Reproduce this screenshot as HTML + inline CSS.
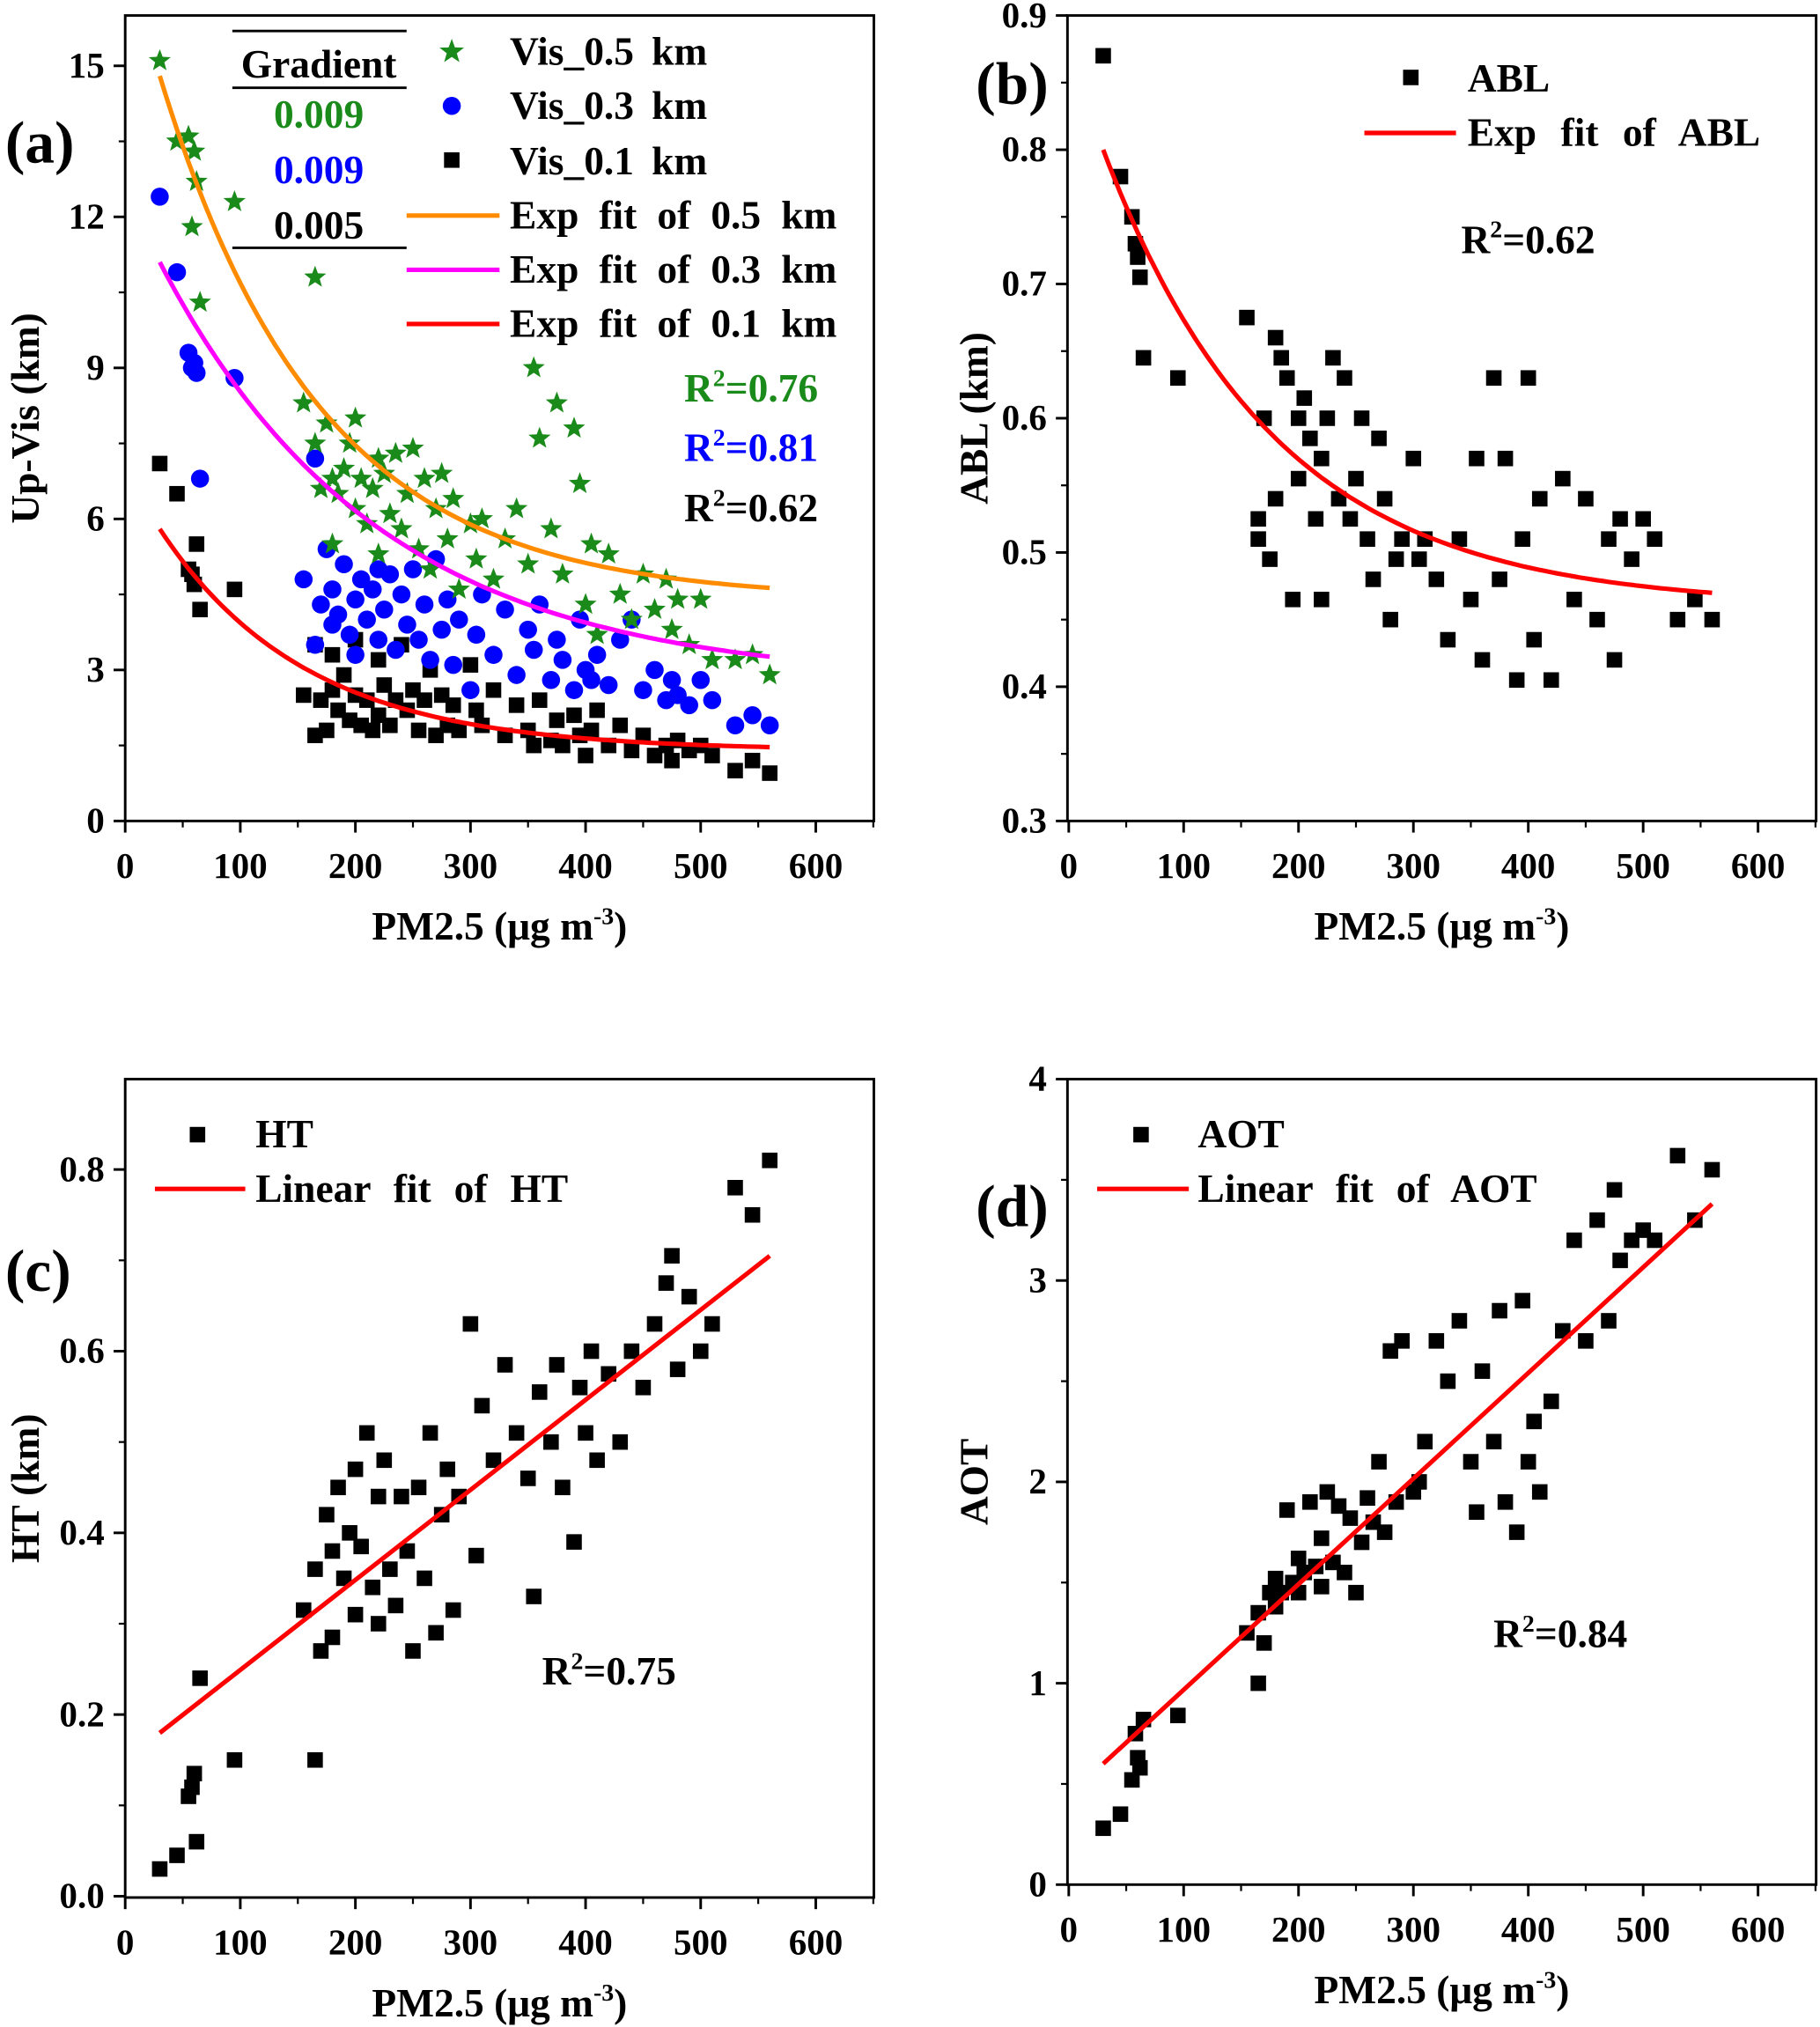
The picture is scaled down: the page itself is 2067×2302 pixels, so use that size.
<!DOCTYPE html>
<html><head><meta charset="utf-8">
<style>
html,body{margin:0;padding:0;background:#fff;}
svg{display:block;font-family:"Liberation Serif",serif;font-weight:bold;}
</style></head>
<body>
<svg id="fig" xmlns="http://www.w3.org/2000/svg" width="2067" height="2302" viewBox="0 0 1410 1570.3">
<rect width="1410" height="1571" fill="#fff"/>
</svg>
<script>
const pm=[30,45,55,58,60,62,65,95,155,165,165,170,175,180,180,185,190,195,200,200,205,210,215,220,220,225,230,235,240,245,250,255,260,265,270,275,280,285,290,300,305,310,320,330,340,350,355,360,370,375,380,390,395,400,405,410,420,430,440,450,460,470,475,480,490,500,510,530,545,560];
const vis05=[15.1,13.5,13.6,11.8,13.3,12.7,10.3,12.3,8.3,10.8,7.5,6.6,7.9,6.8,5.5,6.5,7.0,7.5,8.0,6.2,6.8,5.9,6.6,7.2,5.3,6.9,6.1,7.3,5.8,6.5,7.4,5.4,6.8,5.0,6.2,6.9,5.6,6.4,4.6,5.9,5.2,6.0,4.8,5.6,6.2,5.1,9.0,7.6,5.8,8.3,4.9,7.8,6.7,4.3,5.5,3.7,5.3,4.5,4.0,4.9,4.2,4.8,3.8,4.4,3.5,4.4,3.2,3.2,3.3,2.9];
const vis03=[12.4,10.9,9.3,9.0,9.1,8.9,6.8,8.8,4.8,7.2,3.5,4.3,5.4,3.9,4.6,4.1,5.1,3.7,4.4,3.3,4.8,4.0,4.6,5.0,3.6,4.2,4.9,3.4,4.5,3.9,5.0,3.6,4.3,3.2,5.2,3.8,4.4,3.1,4.0,2.6,3.7,4.5,3.3,4.2,2.9,3.8,3.4,4.3,2.8,3.6,3.2,2.6,4.0,3.0,2.8,3.3,2.7,3.6,4.0,2.6,3.0,2.4,2.8,2.5,2.3,2.8,2.4,1.9,2.1,1.9];
const vis01=[7.1,6.5,5.0,4.9,4.7,5.5,4.2,4.6,2.5,1.7,3.5,2.4,1.8,2.6,3.3,2.2,2.9,2.0,2.5,3.6,1.9,2.4,1.8,3.2,2.1,2.7,1.9,2.4,3.5,2.2,2.6,1.8,2.4,3.0,1.7,2.5,1.9,2.3,1.8,3.1,2.2,1.9,2.6,1.7,2.3,1.8,1.5,2.4,1.6,2.0,1.5,2.1,1.7,1.3,1.8,2.2,1.5,1.9,1.4,1.7,1.3,1.5,1.2,1.6,1.4,1.5,1.3,1.0,1.2,0.95];
const abl=[0.87,0.78,0.75,0.73,0.72,0.705,0.645,0.63,0.675,0.525,0.51,0.60,0.495,0.66,0.54,0.645,0.63,0.465,0.60,0.555,0.615,0.585,0.525,0.57,0.465,0.60,0.645,0.54,0.63,0.525,0.555,0.60,0.51,0.48,0.585,0.54,0.45,0.495,0.51,0.57,0.495,0.51,0.48,0.435,0.51,0.465,0.57,0.42,0.63,0.48,0.57,0.405,0.51,0.63,0.435,0.54,0.405,0.555,0.465,0.54,0.45,0.51,0.42,0.525,0.495,0.525,0.51,0.45,0.465,0.45];
const ht=[0.03,0.045,0.11,0.12,0.135,0.06,0.24,0.15,0.315,0.15,0.36,0.27,0.42,0.38,0.285,0.45,0.35,0.40,0.31,0.47,0.385,0.51,0.34,0.44,0.30,0.48,0.36,0.32,0.44,0.38,0.27,0.45,0.35,0.51,0.29,0.42,0.47,0.315,0.44,0.63,0.375,0.54,0.48,0.585,0.51,0.46,0.33,0.555,0.50,0.585,0.45,0.39,0.56,0.51,0.60,0.48,0.575,0.50,0.60,0.56,0.63,0.675,0.705,0.58,0.66,0.60,0.63,0.78,0.75,0.81];
const aot=[0.28,0.35,0.52,0.75,0.63,0.58,0.82,0.84,1.25,1.00,1.35,1.20,1.45,1.38,1.52,1.45,1.86,1.50,1.62,1.45,1.55,1.90,1.58,1.72,1.48,1.95,1.60,1.88,1.55,1.82,1.45,1.70,1.92,1.80,2.10,1.75,2.65,1.90,2.70,1.95,2.00,2.20,2.70,2.50,2.80,2.10,1.85,2.55,2.20,2.85,1.90,1.75,2.90,2.10,2.30,1.95,2.40,2.75,3.20,2.70,3.30,2.80,3.45,3.10,3.20,3.25,3.20,3.62,3.30,3.55];
// fit parameters: exp y0 + A*exp(-(x-30)/t) ; linear a + b*x
const fit05=[4.4,10.4,139], fit03=[2.75,8.35,190], fit01=[1.4,4.4,127], fitAbl=[0.46,0.34,150];
const fitHt=[0.150,0.000991], fitAot=[0.443,0.005245];
const xTicks=[0,100,200,300,400,500,600];

const NS="http://www.w3.org/2000/svg";
const svg=document.getElementById('fig');
function el(tag,attrs,parent){const e=document.createElementNS(NS,tag);for(const k in attrs)e.setAttribute(k,attrs[k]);(parent||svg).appendChild(e);return e;}
function txt(s,x,y,size,opts,parent){const t=el('text',Object.assign({x:x,y:y,'font-size':size},opts||{}),parent);t.innerHTML=s;return t;}

function panel(name,box,ymin,ymax,yTicks,yFmt,minorY,yLabel,x0px,x600px,y0px,y1px,labX){
  const g=el('g',{});
  
  
  const xs=v=>x0px+(x600px-x0px)*v/600;
  const ys=v=>y0px+(y1px-y0px)*(v-ymin)/(ymax-ymin);
  const fr=el('rect',{x:box[0],y:box[1],width:box[2]-box[0],height:box[3]-box[1],fill:'none',stroke:'#000','stroke-width':2},g);
  
  
  const ax=el('g',{},g);
  
  
  xTicks.forEach(v=>{const x=xs(v);el('line',{x1:x,x2:x,y1:box[3],y2:box[3]+9,stroke:'#000','stroke-width':2},ax);
    el('line',{x1:xs(v+50),x2:xs(v+50),y1:box[3],y2:box[3]+5,stroke:'#000','stroke-width':1.5},ax);
    const t=txt(String(v),x,box[3]+44,28,{'text-anchor':'middle'},ax);});
  const ay=el('g',{},g);
  
  
  yTicks.forEach((v,i)=>{const y=ys(v);el('line',{x1:box[0]-9,x2:box[0],y1:y,y2:y,stroke:'#000','stroke-width':2},ay);
    const m=ys(v+minorY);if(m>box[1])el('line',{x1:box[0]-5,x2:box[0],y1:m,y2:m,stroke:'#000','stroke-width':1.5},ay);
    const t=txt(yFmt(v),box[0]-16,y+9,28,{'text-anchor':'end'},ay);});
  const xl=txt('PM2.5 (μg m<tspan dy="-12" font-size="19">-3</tspan><tspan dy="12">)</tspan>',(box[0]+box[2])/2,box[3]+92,31,{'text-anchor':'middle'},g);
  
  const yc=(box[1]+box[3])/2;
  const yl=txt(yLabel,labX,yc,31,{'text-anchor':'middle',transform:'rotate(-90 '+labX+' '+yc+')'},g);
  
  return {g,xs,ys};
}
function square(g,x,y,s,c){return el('rect',{x:x-s/2,y:y-s/2,width:s,height:s,fill:c||'#000'},g);}
function star(g,x,y,r,c){let p=[];for(let i=0;i<10;i++){const a=-Math.PI/2+i*Math.PI/5,rr=i%2?r*0.42:r;p.push((x+rr*Math.cos(a)).toFixed(1)+','+(y+rr*Math.sin(a)).toFixed(1));}return el('polygon',{points:p.join(' '),fill:c},g);}
function expPath(P,f,c){let d='';for(let x=30;x<=560;x+=5){const v=f[0]+f[1]*Math.exp(-(x-30)/f[2]);d+=(x==30?'M':'L')+P.xs(x).toFixed(1)+','+P.ys(v).toFixed(1);}return el('path',{d:d,fill:'none',stroke:c,'stroke-width':3.5},P.g);}
function linPath(P,f,c){return el('line',{x1:P.xs(30),y1:P.ys(f[0]+f[1]*30),x2:P.xs(560),y2:P.ys(f[0]+f[1]*560),stroke:c,'stroke-width':3.5},P.g);}

// Panel A
const A=panel('panel-a',[97,12,677,636],0,15,[0,3,6,9,12,15],v=>String(v),1.5,'Up-Vis (km)',97,632,636,51,30);
const sA=el('g',{},A.g);
pm.forEach((x,i)=>{const m=square(sA,A.xs(x),A.ys(vis01[i]),12);});
const sB=el('g',{},A.g);
pm.forEach((x,i)=>{const m=el('circle',{cx:A.xs(x),cy:A.ys(vis03[i]),r:7,fill:'#0000ff'},sB);});
const sC=el('g',{},A.g);
pm.forEach((x,i)=>{const m=star(sC,A.xs(x),A.ys(vis05[i]),9,'#1a8a1a');});
let f;
f=expPath(A,fit05,'#ff8c00');
f=expPath(A,fit03,'#ff00ff');
f=expPath(A,fit01,'#ff0000');

// Panel B
const B=panel('panel-b',[827,12,1407,636],0.3,0.9,[0.3,0.4,0.5,0.6,0.7,0.8,0.9],v=>v.toFixed(1),0.05,'ABL (km)',828,1362,636,12,765);
pm.forEach((x,i)=>{const m=square(B.g,B.xs(x),B.ys(abl[i]),12);});
f=expPath(B,fitAbl,'#ff0000');

// Panel C
const C=panel('panel-c',[97,836,677,1470],0,0.8,[0,0.2,0.4,0.6,0.8],v=>v.toFixed(1),0.1,'HT (km)',97,632,1469,906,30);
pm.forEach((x,i)=>{const m=square(C.g,C.xs(x),C.ys(ht[i]),12);});
f=linPath(C,fitHt,'#ff0000');

// Panel D
const D=panel('panel-d',[827,836,1407,1460],0,4,[0,1,2,3,4],v=>String(v),0.5,'AOT',828,1362,1460,836,765);
pm.forEach((x,i)=>{const m=square(D.g,D.xs(x),D.ys(aot[i]),12);});
f=linPath(D,fitAot,'#ff0000');
</script>
<svg style="position:absolute;left:0;top:0" width="2067" height="2302" viewBox="0 0 1410 1570.3">
<g font-family="Liberation Serif, serif" font-weight="bold" word-spacing="6">
 <text x="4" y="126" font-size="46">(a)</text>
 <text x="756" y="80" font-size="46">(b)</text>
 <text x="4" y="1000" font-size="46">(c)</text>
 <text x="756" y="950" font-size="46">(d)</text>
 <g>
  <line x1="180" x2="315" y1="24" y2="24" stroke="#000" stroke-width="2"/>
  <text x="247" y="60" font-size="31" text-anchor="middle">Gradient</text>
  <line x1="180" x2="315" y1="68" y2="68" stroke="#000" stroke-width="2"/>
  <text x="247" y="99" font-size="31" text-anchor="middle" fill="#1a8a1a">0.009</text>
  <text x="247" y="142" font-size="31" text-anchor="middle" fill="#0000ff">0.009</text>
  <text x="247" y="185" font-size="31" text-anchor="middle">0.005</text>
  <line x1="180" x2="315" y1="192" y2="192" stroke="#000" stroke-width="2"/>
 </g>
 <g font-size="31">
  <polygon points="350,30 352.4,36.7 359.5,36.9 353.9,41.3 355.9,48.1 350,44.1 344.1,48.1 346.1,41.3 340.5,36.9 347.6,36.7" fill="#1a8a1a"/>
  <text x="395" y="50">Vis_0.5 km</text>
  <circle cx="350" cy="82" r="7" fill="#0000ff"/>
  <text x="395" y="92">Vis_0.3 km</text>
  <rect x="344" y="118" width="12" height="12" fill="#000"/>
  <text x="395" y="135">Vis_0.1 km</text>
  <line x1="315" x2="387" y1="167" y2="167" stroke="#ff8c00" stroke-width="3.5"/>
  <text x="395" y="177" word-spacing="8">Exp fit of 0.5 km</text>
  <line x1="315" x2="387" y1="209" y2="209" stroke="#ff00ff" stroke-width="3.5"/>
  <text x="395" y="219" word-spacing="8">Exp fit of 0.3 km</text>
  <line x1="315" x2="387" y1="251" y2="251" stroke="#ff0000" stroke-width="3.5"/>
  <text x="395" y="261" word-spacing="8">Exp fit of 0.1 km</text>
 </g>
 <text x="530" y="311" font-size="31" fill="#1a8a1a">R<tspan dy="-12" font-size="19">2</tspan><tspan dy="12">=0.76</tspan></text>
 <text x="530" y="357" font-size="31" fill="#0000ff">R<tspan dy="-12" font-size="19">2</tspan><tspan dy="12">=0.81</tspan></text>
 <text x="530" y="404" font-size="31">R<tspan dy="-12" font-size="19">2</tspan><tspan dy="12">=0.62</tspan></text>
 <g font-size="31">
  <rect x="1087" y="54" width="12" height="12"/>
  <text x="1137" y="71">ABL</text>
  <line x1="1057" x2="1128" y1="103" y2="103" stroke="#ff0000" stroke-width="3.5"/>
  <text x="1137" y="113" word-spacing="11">Exp fit of ABL</text>
 </g>
 <text x="1132" y="196" font-size="31">R<tspan dy="-12" font-size="19">2</tspan><tspan dy="12">=0.62</tspan></text>
 <g font-size="31">
  <rect x="147" y="873" width="12" height="12"/>
  <text x="198" y="889">HT</text>
  <line x1="120" x2="190" y1="921" y2="921" stroke="#ff0000" stroke-width="3.5"/>
  <text x="198" y="931" word-spacing="10">Linear fit of HT</text>
 </g>
 <text x="420" y="1305" font-size="31">R<tspan dy="-12" font-size="19">2</tspan><tspan dy="12">=0.75</tspan></text>
 <g font-size="31">
  <rect x="878" y="873" width="12" height="12"/>
  <text x="928" y="889">AOT</text>
  <line x1="850" x2="921" y1="921" y2="921" stroke="#ff0000" stroke-width="3.5"/>
  <text x="928" y="931" word-spacing="10">Linear fit of AOT</text>
 </g>
 <text x="1157" y="1276" font-size="31">R<tspan dy="-12" font-size="19">2</tspan><tspan dy="12">=0.84</tspan></text>
</g>
</svg>
</body></html>
